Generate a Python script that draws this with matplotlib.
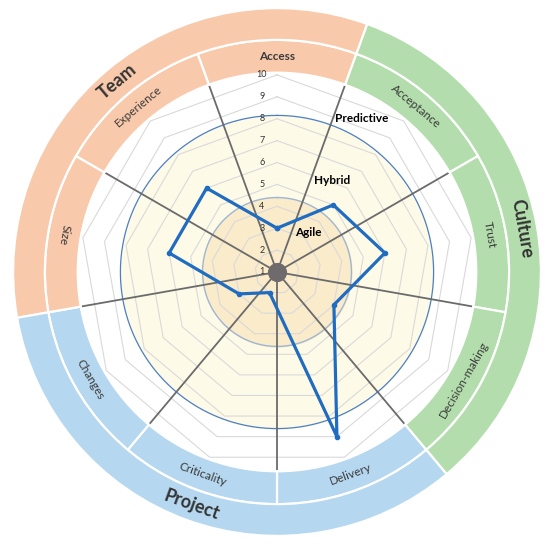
import numpy as np
import matplotlib
matplotlib.use("Agg")
import matplotlib.pyplot as plt
from matplotlib.transforms import offset_copy

plt.rcParams['font.family'] = ['Lato', 'DejaVu Sans']

# data
factors = ["Access", "Acceptance", "Trust", "Decision-making", "Delivery",
           "Criticality", "Changes", "Size", "Experience"]
scores = [3, 5, 6, 4, 9, 2, 3, 6, 6]
groups = ["Team", "Culture", "Project"]
group_colors = ["#F9C9AB", "#B3DDAC", "#B5D7EF"]
# which group each factor belongs to
factor_group = [0, 1, 1, 1, 2, 2, 2, 0, 0]
zones = ["Agile", "Hybrid", "Predictive"]
zone_limits = [4.4, 8.15]          # boundaries on the 1-10 scale
scale_ticks = list(range(1, 11))

n = len(factors)
step = 2 * np.pi / n
angles = np.arange(n) * step


def rad(v):
    # value 1 sits at the centre
    return np.asarray(v, dtype=float) - 1


fig = plt.figure(figsize=(5.5, 5.45), dpi=100)
ax = fig.add_axes([12 / 550, 8 / 545, 530 / 550, 530 / 545], projection='polar')
ax.set_theta_zero_location('N')
ax.set_theta_direction(-1)
ax.set_ylim(0, 12.1)
ax.set_axis_off()

full = np.linspace(0, 2 * np.pi, 361)

# zones
ax.fill_between(full, 0, rad(zone_limits[1]), color="#FEFAE8", zorder=1)
ax.fill_between(full, 0, rad(zone_limits[0]), color="#FAEBCB", zorder=1)
ax.plot(full, np.full_like(full, rad(zone_limits[0])), color="#9FB6D2", lw=1.0, zorder=3)
ax.plot(full, np.full_like(full, rad(zone_limits[1])), color="#4C7FC6", lw=0.9, zorder=3)

# grid polygons
closed = np.append(angles, angles[0])
for v in scale_ticks[1:]:
    ax.plot(closed, np.full(n + 1, rad(v)), color="#D9D9D9", lw=0.8, zorder=2)

# spokes between the factors
for a in angles:
    ax.plot([a + step / 2, a + step / 2], [0, 9.1], color="#6B6B6B", lw=1.3, zorder=4)

# rings
ax.bar(angles, 1.5, width=step, bottom=9.1,
       color=[group_colors[g] for g in factor_group],
       edgecolor="white", linewidth=1.6, zorder=5)
grp_centers = [-step, 2 * step, 5 * step]
ax.bar(grp_centers, 1.45, width=3 * step, bottom=10.6,
       color=group_colors, edgecolor="white", linewidth=1.6, zorder=5)


def tangent_rot(theta_deg):
    theta_deg = theta_deg % 360
    if theta_deg < 90 or theta_deg > 290:
        return -theta_deg
    return 180 - theta_deg


for a, name in zip(angles, factors):
    d = np.degrees(a)
    ax.text(a, 9.85, name, rotation=tangent_rot(d), rotation_mode='anchor',
            ha='center', va='center', fontsize=8.5, color="#3A3A3A", zorder=6,
            fontweight='bold' if name == "Access" else 'normal')

for a, name in zip(grp_centers, groups):
    d = np.degrees(a)
    ax.text(a, 11.33, name, rotation=tangent_rot(d), rotation_mode='anchor',
            ha='center', va='center', fontsize=13, fontweight='bold',
            color="#333333", zorder=6)

# data polygon
ax.plot(np.append(angles, angles[0]), rad(scores + scores[:1]), color="#1F6CC0",
        lw=2.3, marker='o', ms=3, zorder=7, solid_joinstyle='miter')

# centre dot
ax.scatter([0], [0], s=190, color="#6F6B6D", zorder=8, linewidths=0)

# scale labels
tr = offset_copy(ax.transData, fig=fig, x=-15, y=0, units='dots')
for v in scale_ticks:
    ax.text(0, rad(v), str(v), transform=tr, ha='center', va='center',
            fontsize=6.5, color="#333333", zorder=9)

# zone labels
zone_pos = [(38, 2.3), (31, 4.85), (29, 8.0)]
for (d, r), name in zip(zone_pos, zones):
    ax.text(np.radians(d), r, name, ha='center', va='center', fontsize=8.5,
            fontweight='bold', color="black", zorder=9)

fig.savefig("out.png", dpi=100)
